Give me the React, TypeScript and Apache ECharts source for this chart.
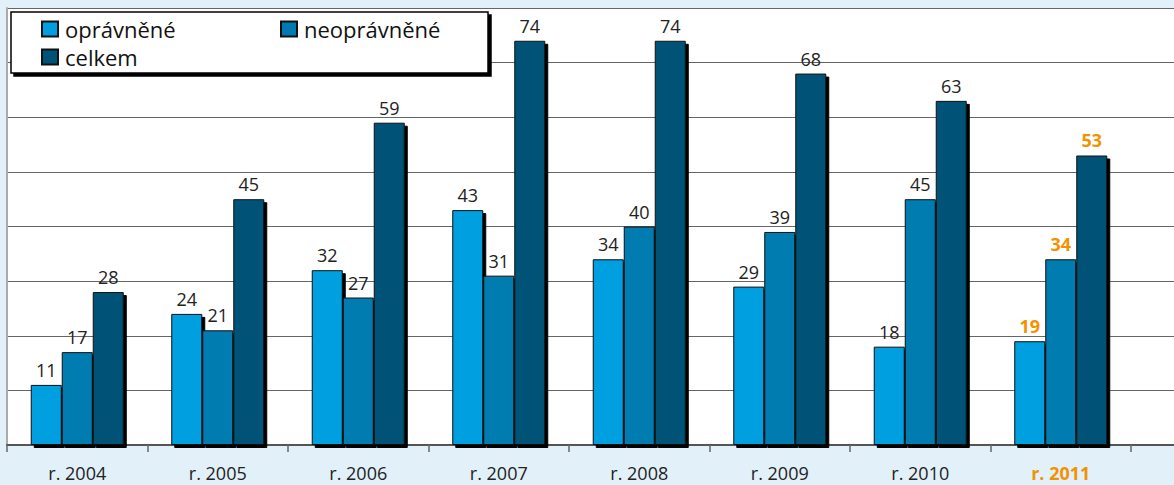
import React, { useEffect, useRef } from "react";
import * as echarts from "echarts";

const categories = ["r. 2004", "r. 2005", "r. 2006", "r. 2007", "r. 2008", "r. 2009", "r. 2010", "r. 2011"];
const opravnene = [11, 24, 32, 43, 34, 29, 18, 19];
const neopravnene = [17, 21, 27, 31, 40, 39, 45, 34];
const celkem = [28, 45, 59, 74, 74, 68, 63, 53];
const seriesNames = ["oprávněné", "neoprávněné", "celkem"];
const seriesColors = ["#009FE0", "#007BB1", "#005377"];
const highlightIndex = 7;

const FONT = "'Open Sans', 'Noto Sans', sans-serif";
const ORANGE = "#F39200";

export default function App() {
  const ref = useRef<HTMLDivElement>(null);
  useEffect(() => {
    document.body.style.margin = "0";
    const chart = echarts.init(ref.current!, null, { renderer: "svg" });
    const mk = (vals: number[], idx: number) => ({
      name: seriesNames[idx],
      type: "bar",
      xAxisIndex: 1,
      yAxisIndex: 1,
      barWidth: 31,
      barGap: "0%",
      itemStyle: {
        color: seriesColors[idx],
        borderColor: "#111",
        borderWidth: 1,
        shadowColor: "#000",
        shadowOffsetX: 3,
        shadowOffsetY: 3,
        shadowBlur: 0,
      },
      label: {
        show: true,
        position: "top",
        distance: 6,
        color: "#222",
        fontSize: 18,
        fontFamily: FONT,
      },
      data: vals.map((v, i) =>
        i === highlightIndex
          ? { value: v, label: { color: ORANGE, fontWeight: "bold" } }
          : v
      ),
    });
    chart.setOption({
      animation: false,
      backgroundColor: "#E1F0F9",
      textStyle: { fontFamily: FONT },
      legend: {
        left: 11,
        top: 12,
        width: 460,
        orient: "horizontal",
        padding: [6, 0, 5, 30],
        itemWidth: 16,
        itemHeight: 15,
        itemGap: 6,
        icon: "rect",
        backgroundColor: "#fff",
        borderColor: "#000",
        borderWidth: 1.5,
        shadowColor: "#000",
        shadowOffsetX: 3,
        shadowOffsetY: 3,
        shadowBlur: 0,
        textStyle: {
          fontSize: 22,
          lineHeight: 16,
          color: "#111",
          fontFamily: FONT,
          width: 209,
          padding: [0, 0, 0, 2],
        },
        data: [
          { name: seriesNames[0] },
          { name: seriesNames[1], textStyle: { width: 184 } },
          { name: seriesNames[2] },
        ],
      },
      grid: [
        { left: 7, right: 0, top: 8, bottom: 40, show: true, backgroundColor: "#fff", borderWidth: 0 },
        { left: 7, right: 43, top: 8, bottom: 40 },
      ],
      xAxis: [
        {
          gridIndex: 0,
          type: "category",
          data: [""],
          axisLine: { show: true, lineStyle: { color: "#555", width: 2 } },
          axisTick: { show: false },
          axisLabel: { show: false },
        },
        {
          gridIndex: 1,
          type: "category",
          data: categories,
          axisLine: { show: false },
          axisTick: { show: true, length: 7, lineStyle: { color: "#666", width: 1.5 } },
          axisLabel: {
            margin: 19,
            fontSize: 18,
            lineHeight: 18,
            color: "#222",
            fontFamily: FONT,
            formatter: (v: string, i: number) => (i === highlightIndex ? `{hl|${v}}` : v),
            rich: {
              hl: { color: ORANGE, fontWeight: "bold", fontSize: 18, lineHeight: 18, fontFamily: FONT },
            },
          },
        },
      ],
      yAxis: [
        {
          gridIndex: 0,
          type: "value",
          min: 0,
          max: 80,
          interval: 10,
          axisLine: { show: true, lineStyle: { color: "#aaa", width: 2 } },
          axisTick: { show: false },
          axisLabel: { show: false },
          splitLine: { show: true, lineStyle: { color: "#666", width: 1 } },
        },
        {
          gridIndex: 1,
          type: "value",
          min: 0,
          max: 80,
          interval: 10,
          show: false,
          splitLine: { show: false },
        },
      ],
      series: [mk(opravnene, 0), mk(neopravnene, 1), mk(celkem, 2)],
    });
    return () => chart.dispose();
  }, []);
  return <div ref={ref} style={{ width: 1174, height: 485 }} />;
}
